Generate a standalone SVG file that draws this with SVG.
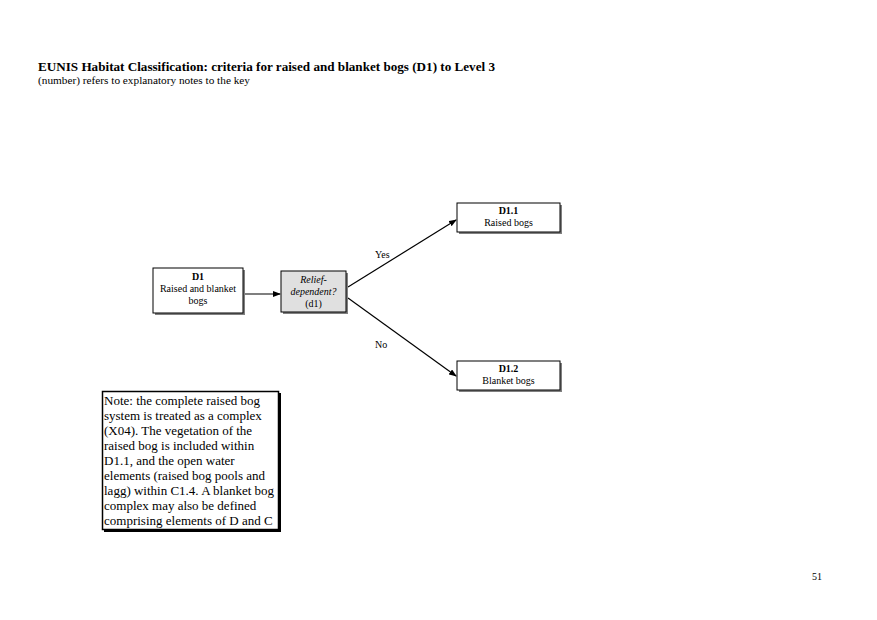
<svg xmlns="http://www.w3.org/2000/svg" width="877" height="620" viewBox="0 0 877 620">
<style>
text{font-family:"Liberation Serif","Times New Roman",serif;fill:#000}
.t{font-size:13px;font-weight:bold}
.s{font-size:10px}
.n{font-size:10px;text-anchor:middle}
.b{font-weight:bold}
.i{font-style:italic}
.box{fill:#fff;stroke:#000;stroke-width:1}
.sh{fill:#808080}
.note{font-size:13px}
.lbl{font-size:10px}
line.c{stroke:#000;stroke-width:1.2;fill:none}
</style>
<defs>
<marker id="ah" markerWidth="8" markerHeight="6" refX="7" refY="3" orient="auto" markerUnits="userSpaceOnUse">
<path d="M0,0 L8,3 L0,6 z" fill="#000"/>
</marker>
</defs>
<rect width="877" height="620" fill="#fff"/>
<text class="t" x="38" y="71" textLength="457" lengthAdjust="spacingAndGlyphs">EUNIS Habitat Classification: criteria for raised and blanket bogs (D1) to Level 3</text>
<text class="s" x="38" y="84" textLength="212" lengthAdjust="spacingAndGlyphs">(number) refers to explanatory notes to the key</text>

<g id="connectors">
<line class="c" x1="245" y1="294" x2="280" y2="294" marker-end="url(#ah)"/>
<line class="c" x1="348" y1="287" x2="456" y2="220" marker-end="url(#ah)"/>
<line class="c" x1="348" y1="298" x2="456" y2="376" marker-end="url(#ah)"/>
<text class="lbl" x="375" y="258">Yes</text>
<text class="lbl" x="375" y="348">No</text>
</g>

<g id="D1">
<rect class="sh" x="155" y="270" width="90" height="45"/>
<rect class="box" x="153" y="268" width="90" height="45"/>
<text class="n b" x="198" y="280">D1</text>
<text class="n" x="198" y="292">Raised and blanket</text>
<text class="n" x="198" y="304">bogs</text>
</g>

<g id="relief">
<rect class="sh" x="283" y="273" width="65" height="41"/>
<rect x="281" y="271" width="65" height="41" fill="#e0e0e0" stroke="#000" stroke-width="1"/>
<text class="n i" x="313.5" y="283">Relief-</text>
<text class="n i" x="313.5" y="295">dependent?</text>
<text class="n" x="313.5" y="307">(d1)</text>
</g>

<g id="D1.1">
<rect class="sh" x="459" y="205" width="103" height="29"/>
<rect class="box" x="457" y="203" width="103" height="29"/>
<text class="n b" x="508.5" y="214">D1.1</text>
<text class="n" x="508.5" y="226">Raised bogs</text>
</g>

<g id="D1.2">
<rect class="sh" x="459" y="363" width="103" height="29"/>
<rect class="box" x="457" y="361" width="103" height="29"/>
<text class="n b" x="508.5" y="372">D1.2</text>
<text class="n" x="508.5" y="384">Blanket bogs</text>
</g>

<g id="note">
<rect x="104" y="393" width="177" height="139" fill="#000"/>
<rect x="102.5" y="391.5" width="176" height="138" fill="#fff" stroke="#000" stroke-width="1.5"/>
<text class="note" x="104" y="405">Note: the complete raised bog</text>
<text class="note" x="104" y="420">system is treated as a complex</text>
<text class="note" x="104" y="435">(X04). The vegetation of the</text>
<text class="note" x="104" y="450">raised bog is included within</text>
<text class="note" x="104" y="465">D1.1, and the open water</text>
<text class="note" x="104" y="480">elements (raised bog pools and</text>
<text class="note" x="104" y="495">lagg) within C1.4. A blanket bog</text>
<text class="note" x="104" y="510">complex may also be defined</text>
<text class="note" x="104" y="525">comprising elements of D and C</text>
</g>

<text class="s" x="812" y="580">51</text>
</svg>
